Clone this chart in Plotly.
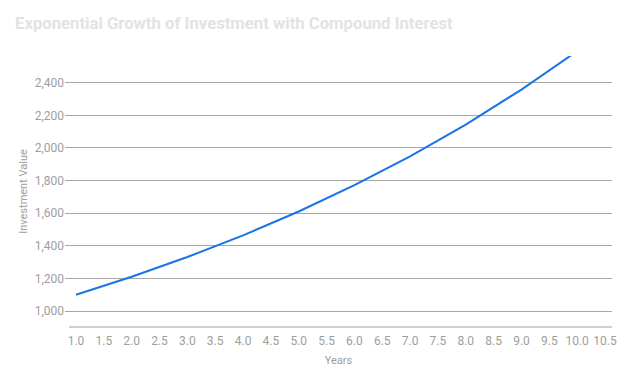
import plotly.graph_objects as go

years = [1, 2, 3, 4, 5, 6, 7, 8, 9, 10]
investment_value = [1100, 1210, 1331, 1464.1, 1610.51, 1771.56, 1948.72, 2143.59, 2357.95, 2593.74]

x_ticks = [1.0, 1.5, 2.0, 2.5, 3.0, 3.5, 4.0, 4.5, 5.0, 5.5, 6.0, 6.5, 7.0, 7.5, 8.0, 8.5, 9.0, 9.5, 10.0, 10.5]
x_tick_labels = [f"{v:.1f}" for v in x_ticks]
y_ticks = [1000, 1200, 1400, 1600, 1800, 2000, 2200, 2400]
y_tick_labels = [f"{v:,}" for v in y_ticks]

title = "Exponential Growth of Investment with Compound Interest"

fig = go.Figure()
fig.add_trace(go.Scatter(
    x=years, y=investment_value, mode="lines",
    line=dict(color="#1a73e8", width=2),
    hoverinfo="x+y",
))

FONT = "Roboto, Arial, sans-serif"
W, H = 620, 372
fig.update_layout(
    width=W, height=H,
    margin=dict(l=57, r=16, t=48, b=53),
    paper_bgcolor="white", plot_bgcolor="white",
    showlegend=False,
    font=dict(family=FONT, size=12, color="#9e9e9e"),
    title=dict(text=title, x=7 / W, xanchor="left", y=1 - 15 / H, yanchor="middle",
               font=dict(family=FONT, size=16.7, color="#e3e3e3", weight="bold")),
    xaxis=dict(range=[0.8025, 10.626], tickvals=x_ticks, ticktext=x_tick_labels,
               showgrid=False, zeroline=False, showline=False, ticks="",
               ticklabelstandoff=5,
               tickfont=dict(size=12, color="#9e9e9e"),
               title=dict(text="Years", font=dict(size=11, color="#9e9e9e"), standoff=9)),
    yaxis=dict(range=[902, 2564], tickvals=y_ticks, ticktext=y_tick_labels,
               showgrid=True, gridcolor="#a8a8a8", gridwidth=1,
               zeroline=False, showline=False, ticks="",
               tickfont=dict(size=12, color="#9e9e9e"),
               title=dict(text="Investment Value", font=dict(size=11, color="#9e9e9e"), standoff=4)),
)
# baseline
fig.add_shape(type="line", xref="paper", yref="paper", x0=4 / 547, x1=1, y0=0, y1=0,
              line=dict(color="#9e9e9e", width=1))

fig.write_html("out.html")
